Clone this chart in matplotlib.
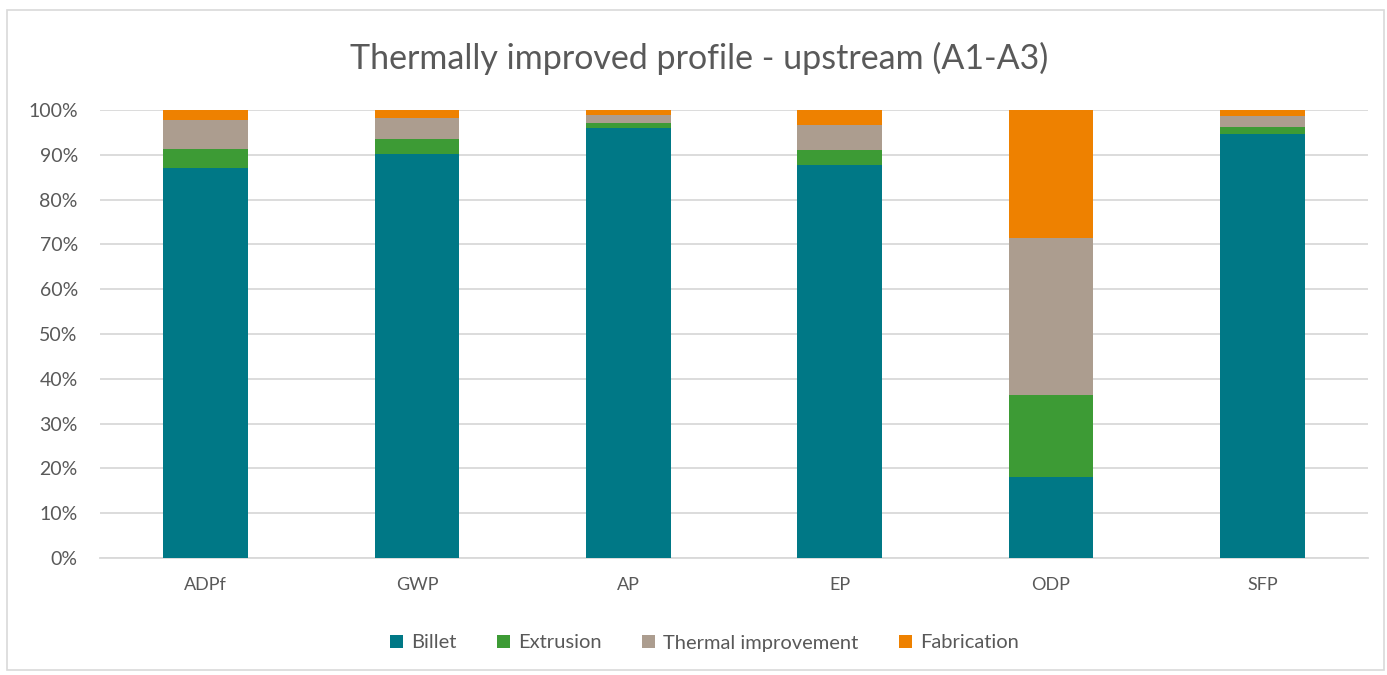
import numpy as np
import matplotlib.pyplot as plt
from matplotlib.patches import Rectangle

plt.rcParams['font.family'] = ['Lato', 'DejaVu Sans']

categories = ['ADPf', 'GWP', 'AP', 'EP', 'ODP', 'SFP']
billet = [87.0, 90.2, 96.0, 87.7, 18.1, 94.6]
extrusion = [4.3, 3.3, 1.1, 3.4, 18.3, 1.6]
thermal = [6.5, 4.8, 1.8, 5.6, 35.0, 2.5]
fabrication = [2.2, 1.7, 1.1, 3.3, 28.6, 1.3]

series = [('Billet', billet, '#007886'),
          ('Extrusion', extrusion, '#3D9B35'),
          ('Thermal improvement', thermal, '#AC9D8F'),
          ('Fabrication', fabrication, '#EE8100')]

text_color = '#595959'

fig = plt.figure(figsize=(13.87, 6.75), dpi=100)
ax = fig.add_axes([100 / 1387, 1 - 558 / 675, 1268 / 1387, 448 / 675])

# chart border
fig.patches.append(Rectangle((7 / 1387, 5 / 675), 1377 / 1387, 660 / 675,
                             transform=fig.transFigure, fill=False,
                             edgecolor='#D9D9D9', linewidth=1.2))

x = np.arange(len(categories))
bottom = np.zeros(len(categories))
for name, vals, color in series:
    ax.bar(x, vals, width=0.4, bottom=bottom, color=color, label=name, zorder=3)
    bottom += np.array(vals)

ax.set_xlim(-0.5, len(categories) - 0.5)
ax.set_ylim(0, 100)
ax.set_yticks(np.arange(0, 101, 10))
ax.set_yticklabels([f'{v}%' for v in range(0, 101, 10)])
ax.set_xticks(x)
ax.set_xticklabels(categories)
ax.yaxis.grid(True, color='#D9D9D9', linewidth=1.3, zorder=0)
ax.tick_params(length=0, labelsize=13, colors=text_color)
ax.tick_params(axis='y', pad=16, labelsize=14)
ax.tick_params(axis='x', pad=14)
for s in ['top', 'right', 'left']:
    ax.spines[s].set_visible(False)
ax.spines['bottom'].set_color('#D9D9D9')
ax.spines['bottom'].set_linewidth(1.3)

fig.text(0.504, 1 - 58 / 675, 'Thermally improved profile - upstream (A1-A3)',
         ha='center', va='center', fontsize=24.5, color=text_color)

fig.legend(loc='center', bbox_to_anchor=(0.508, 1 - 643 / 675), ncol=4,
           frameon=False, fontsize=14.5, labelcolor=text_color,
           handlelength=0.65, handleheight=0.65, handletextpad=0.4,
           columnspacing=2.0)

fig.savefig('out.png', dpi=100)
